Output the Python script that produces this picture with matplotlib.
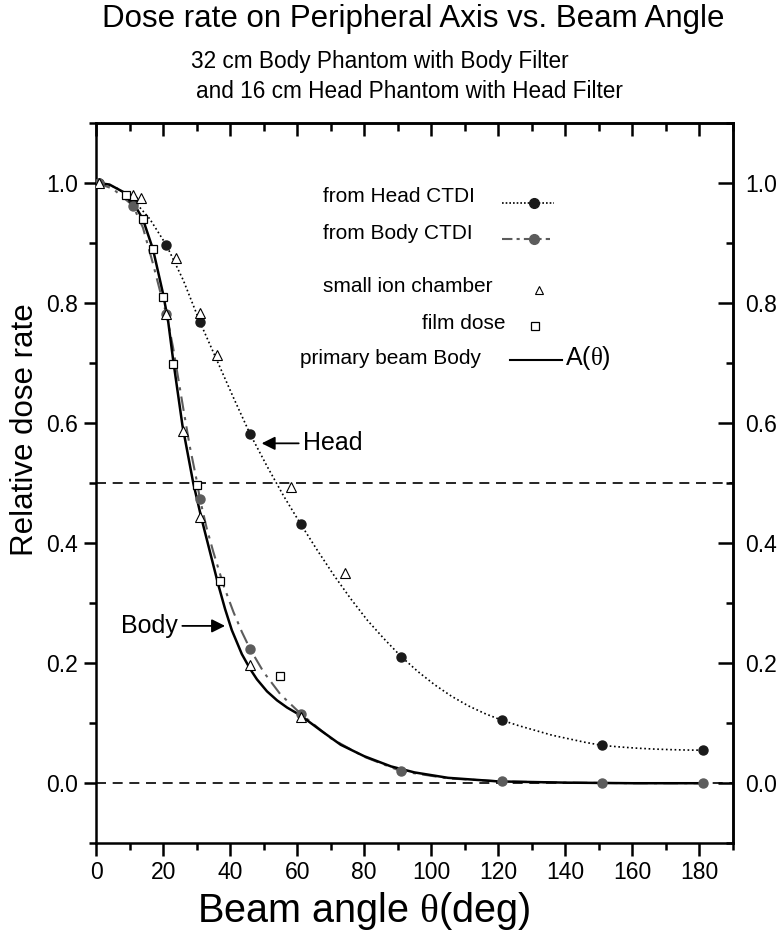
import matplotlib
matplotlib.use("Agg")
import matplotlib.pyplot as plt
from matplotlib.lines import Line2D
from matplotlib.ticker import MultipleLocator, FormatStrFormatter

plt.rcParams['font.family'] = ['Liberation Sans', 'DejaVu Sans']
plt.rcParams['mathtext.fontset'] = 'custom'
plt.rcParams['mathtext.rm'] = 'Liberation Serif'

# measured points (angle in deg, relative dose rate)
ctdi_angle = [1, 11, 21, 31, 46, 61, 91, 121, 151, 181]
head_ctdi = [1.0, 0.972, 0.896, 0.768, 0.581, 0.432, 0.211, 0.105, 0.063, 0.055]
body_ctdi = [1.0, 0.962, 0.782, 0.473, 0.223, 0.116, 0.020, 0.003, 0.0, 0.0]

ion_angle = [1, 11, 13.3, 21, 24, 26, 31, 31, 36, 46, 58.3, 61, 74.3]
ion_dose = [1.0, 0.98, 0.975, 0.782, 0.874, 0.586, 0.783, 0.443, 0.713, 0.197, 0.494, 0.111, 0.35]

film_angle = [9, 14, 17, 20, 23, 30, 37, 55]
film_dose = [0.98, 0.939, 0.889, 0.81, 0.698, 0.497, 0.337, 0.178]

# fitted curves
head_curve_x = [0, 1, 6, 11, 16, 21, 26, 31, 36, 41, 46, 51, 56, 61, 66, 71, 76, 81, 86, 91,
                96, 101, 106, 111, 116, 121, 126, 131, 136, 141, 146, 151, 156, 161, 166, 171, 176, 181]
head_curve_y = [1.0, 1.0, 0.992, 0.972, 0.94, 0.896, 0.838, 0.768, 0.705, 0.642, 0.581, 0.528, 0.478, 0.432,
                0.388, 0.346, 0.307, 0.271, 0.24, 0.211, 0.186, 0.164, 0.145, 0.129, 0.116, 0.105,
                0.096, 0.088, 0.08, 0.074, 0.068, 0.063, 0.0605, 0.0585, 0.057, 0.056, 0.0553, 0.055]

body_curve_x = [0, 5, 11, 14, 17, 20, 21, 23, 26, 28, 30, 31, 33, 35, 38, 41, 43.5, 46, 50, 55, 61,
                70, 80, 91, 105, 121, 140, 160, 181]
body_curve_y = [1.0, 0.99, 0.962, 0.925, 0.865, 0.80, 0.782, 0.725, 0.625, 0.56, 0.505, 0.473, 0.425,
                0.385, 0.33, 0.285, 0.252, 0.223, 0.185, 0.148, 0.116, 0.075, 0.044, 0.02, 0.008,
                0.003, 0.001, 0.0, 0.0]

prim_x = [0, 4, 8, 11, 14, 17, 20, 21.5, 23, 25.8, 29, 31.5, 34, 36.5, 38.5, 40.5, 43.5, 46, 48, 51,
          54, 57, 61, 67, 73, 80, 88, 95, 105, 120, 140, 160, 181]
prim_y = [1.0, 0.997, 0.985, 0.968, 0.939, 0.889, 0.815, 0.77, 0.705, 0.595, 0.5, 0.44, 0.385, 0.33,
          0.29, 0.255, 0.215, 0.19, 0.173, 0.153, 0.138, 0.126, 0.113, 0.088, 0.064, 0.045, 0.028,
          0.018, 0.009, 0.003, 0.001, 0.0, 0.0]

ref_levels = [0.5, 0.0]
x_ticks = [0, 20, 40, 60, 80, 100, 120, 140, 160, 180]
y_ticks = [0.0, 0.2, 0.4, 0.6, 0.8, 1.0]

gray = '#5c5c5c'
tick_fs = 16.5

fig = plt.figure(figsize=(7.82, 9.35), dpi=100)
ax = fig.add_axes([0.1228, 0.0981, 0.8145, 0.7707])

for lev in ref_levels:
    ax.axhline(lev, color='black', lw=1.2, ls=(0, (6, 4)), zorder=1)

ax.plot(head_curve_x, head_curve_y, color='black', lw=1.2, ls=(0, (1, 1.6)), zorder=2)
ax.plot(body_curve_x, body_curve_y, color=gray, lw=1.5, ls=(0, (7, 3, 1.5, 3)), zorder=2)
ax.plot(prim_x, prim_y, color='black', lw=1.8, zorder=3)

ax.plot(ctdi_angle, head_ctdi, 'o', color='#1a1a1a', ms=6.5, zorder=4)
ax.plot(ctdi_angle, body_ctdi, 'o', color=gray, ms=6.5, zorder=4)
ax.plot(ion_angle, ion_dose, '^', mfc='white', mec='black', mew=0.8, ms=7.5, zorder=5)
ax.plot(film_angle, film_dose, 's', mfc='white', mec='black', mew=0.9, ms=6, zorder=5)

ax.set_xlim(0, 190)
ax.set_ylim(-0.1, 1.1)
ax.set_xticks(x_ticks)
ax.set_yticks(y_ticks)
ax.xaxis.set_minor_locator(MultipleLocator(10))
ax.yaxis.set_minor_locator(MultipleLocator(0.1))
ax.yaxis.set_major_formatter(FormatStrFormatter('%.1f'))

for s in ax.spines.values():
    s.set_linewidth(1.8)

ax.tick_params(axis='x', which='major', direction='out', length=9, width=1.8, labelsize=tick_fs, pad=4)
ax.tick_params(axis='x', which='minor', direction='out', length=5, width=1.8)
ax.tick_params(axis='y', which='major', direction='out', length=9, width=1.8, labelsize=tick_fs, pad=4,
               right=False)
ax.tick_params(axis='y', which='minor', direction='out', length=5, width=1.8, right=False)

# top ticks (inward, no labels)
axt = ax.secondary_xaxis('top')
axt.set_xticks(x_ticks)
axt.set_xticklabels([])
axt.xaxis.set_minor_locator(MultipleLocator(10))
axt.tick_params(which='major', direction='in', length=9, width=1.8)
axt.tick_params(which='minor', direction='in', length=6, width=1.8)
axt.spines['top'].set_linewidth(1.8)

# right ticks (inward, labelled)
axr = ax.secondary_yaxis('right')
axr.set_yticks(y_ticks)
axr.yaxis.set_minor_locator(MultipleLocator(0.1))
axr.yaxis.set_major_formatter(FormatStrFormatter('%.1f'))
axr.tick_params(which='major', direction='in', length=11, width=1.8, labelsize=tick_fs, pad=9)
axr.tick_params(which='minor', direction='in', length=5, width=1.8)
axr.spines['right'].set_linewidth(1.8)

# titles and axis labels
fig.text(0.529, 0.971, 'Dose rate on Peripheral Axis vs. Beam Angle', ha='center', va='baseline', fontsize=22.5)
fig.text(0.486, 0.927, '32 cm Body Phantom with Body Filter', ha='center', va='baseline', fontsize=16.3)
fig.text(0.523, 0.895, 'and 16 cm Head Phantom with Head Filter', ha='center', va='baseline', fontsize=16.3)
fig.text(0.465, 0.0139, r'Beam angle $\mathrm{\theta}$(deg)', ha='center', va='baseline', fontsize=28.5)
fig.text(0.032, 0.54, 'Relative dose rate', rotation=90, ha='center', va='center', fontsize=22.5)

# hand-made key
tr = ax.transAxes
fs = 15
ax.text(0.356, 0.897, 'from Head CTDI', transform=tr, fontsize=fs, va='center', ha='left')
ax.add_line(Line2D([0.637, 0.719], [0.889, 0.889], transform=tr, color='black', lw=1.2, ls=(0, (1, 1.2))))
ax.add_line(Line2D([0.687], [0.889], transform=tr, marker='o', color='#1a1a1a', ms=7))
ax.text(0.356, 0.8465, 'from Body CTDI', transform=tr, fontsize=fs, va='center', ha='left')
ax.add_line(Line2D([0.637, 0.712], [0.838, 0.838], transform=tr, color=gray, lw=1.5, ls=(0, (5, 2, 1.5, 2))))
ax.add_line(Line2D([0.688], [0.838], transform=tr, marker='o', color=gray, ms=7))
ax.text(0.357, 0.7724, 'small ion chamber', transform=tr, fontsize=fs, va='center', ha='left')
ax.add_line(Line2D([0.696], [0.768], transform=tr, marker='^', mfc='white', mec='black', mew=0.8, ms=6))
ax.text(0.511, 0.7216, 'film dose', transform=tr, fontsize=fs, va='center', ha='left')
ax.add_line(Line2D([0.689], [0.718], transform=tr, marker='s', mfc='white', mec='black', mew=0.9, ms=5.5))
ax.text(0.320, 0.673, 'primary beam Body', transform=tr, fontsize=fs, va='center', ha='left')
ax.add_line(Line2D([0.650, 0.731], [0.670, 0.670], transform=tr, color='black', lw=1.5))
ax.text(0.736, 0.6735, r'A($\mathrm{\theta}$)', transform=tr, fontsize=18, va='center', ha='left')

# curve annotations
arrow = dict(arrowstyle='-|>', color='black', lw=1.3, mutation_scale=20, shrinkA=1, shrinkB=0)
ax.annotate('Head', xy=(49.4, 0.566), xytext=(61.7, 0.566), fontsize=18, ha='left', va='center',
            arrowprops=arrow)
ax.annotate('Body', xy=(38.5, 0.262), xytext=(24.5, 0.262), fontsize=18, ha='right', va='center',
            arrowprops=arrow)

fig.savefig('out.png', dpi=100)
